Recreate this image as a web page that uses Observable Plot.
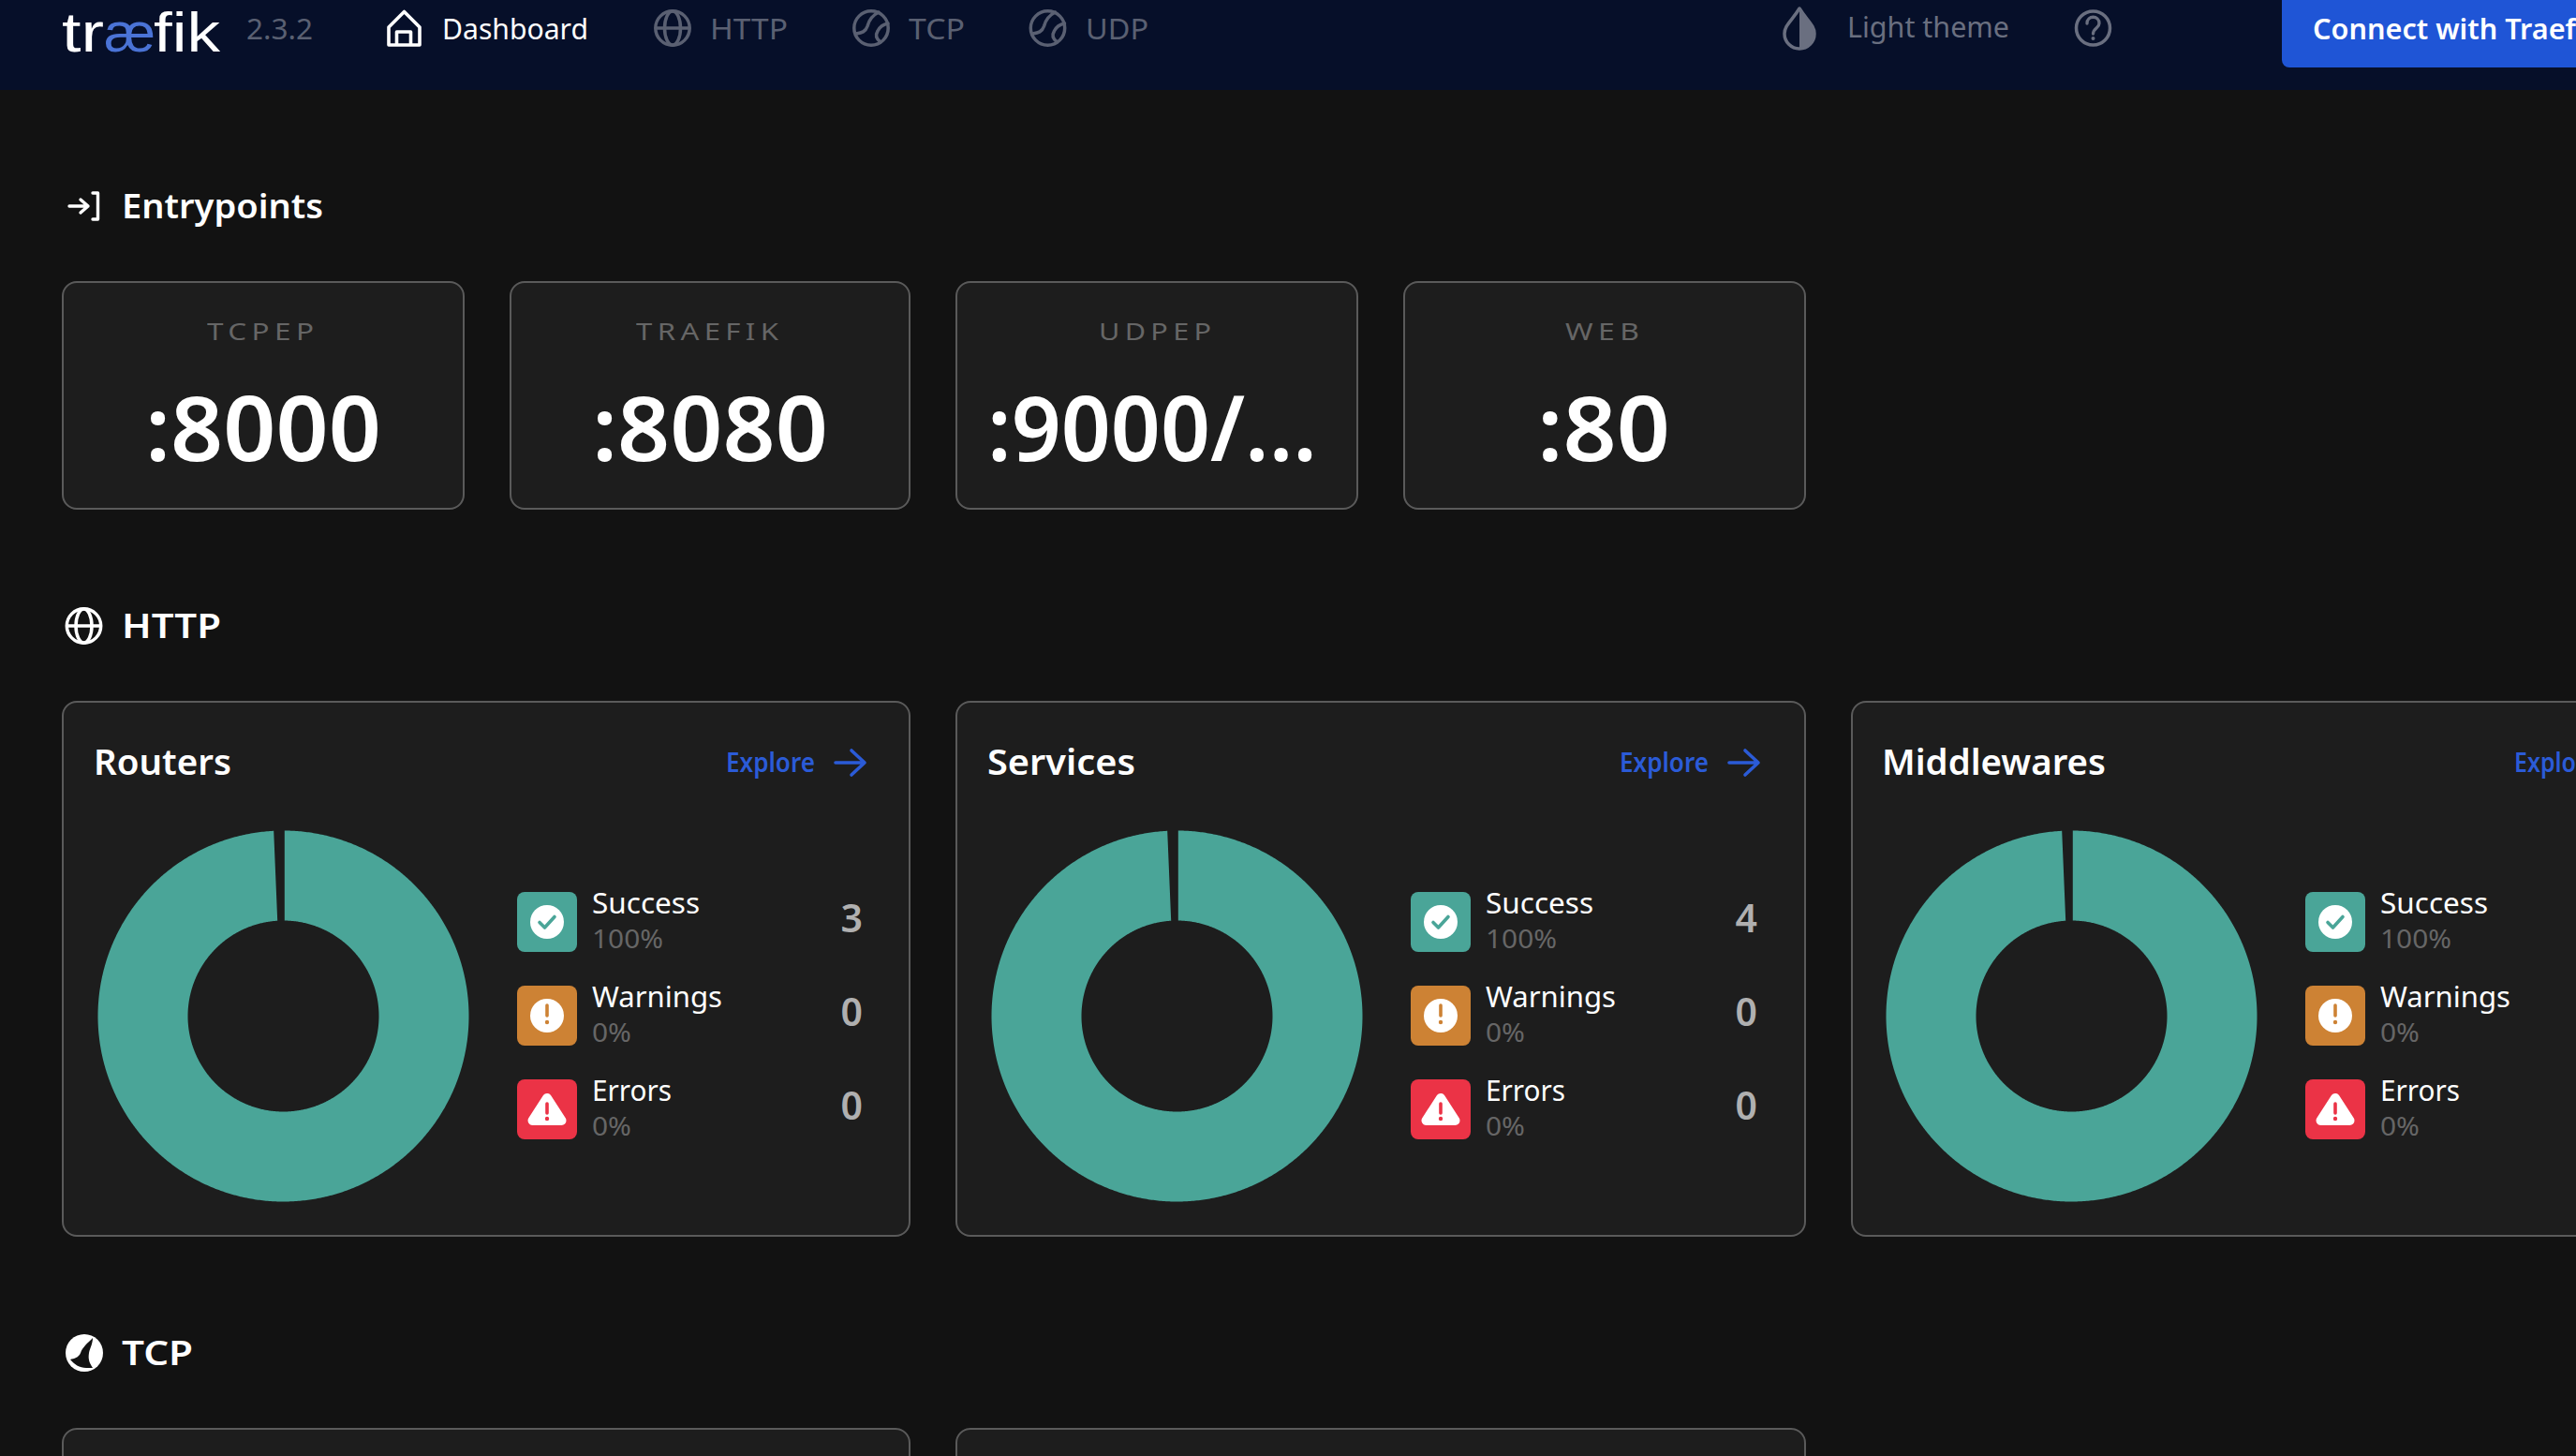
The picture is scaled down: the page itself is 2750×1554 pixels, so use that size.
<!DOCTYPE html>
<html><head><meta charset="utf-8">
<script src="https://cdn.jsdelivr.net/npm/d3@7"></script>
<script src="https://cdn.jsdelivr.net/npm/@observablehq/plot@0.6"></script>
<style>
html,body{margin:0;padding:0;background:#121212;overflow:hidden;width:2750px;height:1554px}
#page{position:relative;width:2750px;height:1554px;overflow:hidden;background:#121212;font-family:"Noto Sans",sans-serif}
#page>*{position:absolute}
.t{white-space:pre;line-height:1.1;transform-origin:left center}
.card{box-sizing:border-box;background:#1d1d1d;border:2px solid #5a5a5a;border-radius:16px}
svg.i{overflow:visible;left:0;top:0;width:2750px;height:1554px;pointer-events:none}
</style></head><body><div id="page"></div>
<script>
// ---------- data ----------
const versionLabel = "2.3.2";
const navLabels = ["Dashboard", "HTTP", "TCP", "UDP"];
const entryNames = ["TCPEP", "TRAEFIK", "UDPEP", "WEB"];
const entryPorts = [":8000", ":8080", ":9000/...", ":80"];
const sectionTitles = ["Entrypoints", "HTTP", "TCP"];
const chartTitles = ["Routers", "Services", "Middlewares"];
const exploreLabels = ["Explore", "Explore", "Explo"];
const statusNames = ["Success", "Warnings", "Errors"];
const statusColors = ["#4aa598", "#cd8234", "#eb3346"];
const routerPercents = [100, 0, 0];
const servicePercents = [100, 0, 0];
const middlewarePercents = [100, 0, 0];
const routerCounts = [3, 0, 0];
const serviceCounts = [4, 0, 0];
const chartPercents = [routerPercents, servicePercents, middlewarePercents];
const chartCounts = [routerCounts, serviceCounts, null];

// ---------- layout ----------
const page = document.getElementById("page");
const entryX = [66, 544, 1020, 1498], entryW = [430, 428, 430, 430];
const portCenters = [280.5, 758, 1229.5, 1711.5], portWidths = [252, 252, 352, 142];
const labelCenters = [278, 755, 1233, 1710.5], labelWidths = [114, 152, 120, 79];
const cardX = [66, 1020, 1976], cardW = [906, 908, 906], chartX = [66, 1020, 1975];
const countRight = [855, 856, 855];
const exploreWidths = [95, 95, 66];
const targets = {Dashboard:156, HTTP:83, TCP:60, UDP:67, "Light theme":173, "2.3.2":71,
  Entrypoints:215, Routers:147, Services:158, Middlewares:239,
  Success:115, Warnings:139, Errors:85, "100%":76, "0%":42};

function box(x, y, w, h, cls, css = "") {
  const d = document.createElement("div");
  d.className = cls;
  d.style.cssText = `left:${x}px;top:${y}px;width:${w}px;height:${h}px;${css}`;
  page.appendChild(d);
  return d;
}
function text(str, x, baseline, size, color, o = {}) {
  const d = document.createElement("div");
  d.className = "t";
  d.textContent = str;
  d.style.cssText = `left:${x}px;top:0;font-size:${size}px;color:${color};font-weight:${o.weight || 400};` +
    (o.family ? `font-family:${o.family};` : "") + (o.lh ? `line-height:${o.lh};` : "") +
    (o.ls ? `letter-spacing:${o.ls}px;` : "");
  page.appendChild(d);
  const strut = document.createElement("span");
  strut.style.cssText = "display:inline-block;width:0;height:0;vertical-align:baseline";
  d.appendChild(strut);
  d.style.top = baseline - strut.getBoundingClientRect().bottom + "px";
  let w = d.getBoundingClientRect().width - (o.ls || 0);
  if (o.width) {
    d.style.transform = `scaleX(${o.width / w})`;
    w = o.width;
  }
  if (o.anchor === "middle") d.style.left = x - w / 2 + "px";
  if (o.anchor === "end") d.style.left = x - w + "px";
  return d;
}

// header
box(0, 0, 2750, 96, "", "background:#060f29");
box(2436, -10, 330, 82, "", "background:#1f55d6;border-radius:8px");
const MUTED = "#5a6072", MUTED2 = "#6a6f80";
const LOGO = '"Liberation Sans"';
text("tr", 66, 55, 60, "#fff", {family:LOGO, lh:0.75, width:45});
text("æ", 111, 55, 60, "#4a73d6", {family:LOGO, lh:0.75, width:55});
text("fik", 164, 55, 60, "#fff", {family:LOGO, lh:0.75, width:71});
text(versionLabel, 263, 42, 30, MUTED, {width:targets["2.3.2"]});
text(navLabels[0], 472, 42, 30, "#fff", {width:targets.Dashboard});
text(navLabels[1], 758, 42, 30, MUTED, {width:targets.HTTP});
text(navLabels[2], 970, 42, 30, MUTED, {width:targets.TCP});
text(navLabels[3], 1159, 42, 30, MUTED, {width:targets.UDP});
text("Light theme", 1972, 40, 30, MUTED2, {width:targets["Light theme"]});
text("Connect with Traef", 2469, 42, 31, "#fff", {weight:600, width:281});

// sections
text(sectionTitles[0], 130, 233, 36, "#fff", {weight:600, width:targets.Entrypoints});
text(sectionTitles[1], 130, 681, 36, "#fff", {weight:600, width:106});
text(sectionTitles[2], 130, 1457, 36, "#fff", {weight:600, width:76});

// entrypoint cards
entryNames.forEach((name, i) => {
  box(entryX[i], 300, entryW[i], 244, "card");
  text(name, labelCenters[i], 363, 26, "#666", {anchor:"middle", width:labelWidths[i], ls:4.5});
  text(entryPorts[i], portCenters[i], 492, 95, "#fff", {anchor:"middle", weight:600, width:portWidths[i]});
});

// donut outline from a pie slice; the small seam is the hairline border of the original chart
const R = 198, r = 102;
function outline(slice, status) {
  const pts = [];
  const step = Math.PI / 360;
  const push = (rad, a) => pts.push({status, x: rad * Math.sin(a), y: rad * Math.cos(a)});
  const a0 = slice.startAngle + Math.asin(1.3 / R), a1 = slice.endAngle - Math.asin(10.3 / R);
  const b0 = slice.startAngle + Math.asin(1.3 / r), b1 = slice.endAngle - Math.asin(6.3 / r);
  for (let a = a0; a < a1; a += step) push(R, a);
  push(R, a1);
  for (let a = b1; a > b0; a -= step) push(r, a);
  push(r, b0);
  return pts;
}
function donut(percents) {
  const slices = d3.pie().sort(null)(percents);
  const points = slices.flatMap((s, i) => s.value > 0 ? outline(s, statusNames[i]) : []);
  return Plot.plot({
    width: 400, height: 400, margin: 0,
    style: {background: "transparent"},
    x: {domain: [-200, 200], range: [0, 400], axis: null},
    y: {domain: [-200, 200], range: [400, 0], axis: null},
    color: {domain: statusNames, range: statusColors},
    marks: [Plot.line(points, {x: "x", y: "y", z: "status", fill: "status", stroke: "none", curve: "linear"})]
  });
}

// chart cards
chartTitles.forEach((title, i) => {
  const X = chartX[i];
  box(cardX[i], 748, cardW[i], 572, "card");
  text(title, X + 34, 827, 37, "#fff", {weight:600, width:targets[title]});
  text(exploreLabels[i], X + 709, 824, 28, "#2b5bd7", {weight:600, width:exploreWidths[i]});
  const svg = donut(chartPercents[i]);
  svg.style.cssText += `;position:absolute;left:${X + 236 - 200}px;top:${1084 - 200}px`;
  page.appendChild(svg);
  statusNames.forEach((name, j) => {
    const y = 952 + j * 100;
    box(X + 486, y, 64, 64, "", `background:${statusColors[j]};border-radius:8px`);
    text(name, X + 566, y + 23, 31, "#fff", {width:targets[name]});
    const pct = chartPercents[i][j] + "%";
    text(pct, X + 566, y + 60, 28, "#666", {width:targets[pct]});
    if (chartCounts[i]) text(String(chartCounts[i][j]), X + countRight[i], y + 43, 41, "#b0b0b0", {anchor:"end", weight:600});
  });
});
box(66, 1524, 906, 300, "card");
box(1020, 1524, 908, 300, "card");

// icons (page chrome)
function wave(cx, cy, c) {
  return `<circle cx="${cx}" cy="${cy}" r="18.2" fill="none" stroke="${c}" stroke-width="3.5"/>
  <path d="M${cx+8} ${cy-17}C${cx+2} ${cy-14} ${cx-2} ${cy-10} ${cx-4} ${cy-2}C${cx-6} ${cy+4} ${cx-10} ${cy+5} ${cx-16} ${cy+6}" fill="none" stroke="${c}" stroke-width="3.5" stroke-linecap="round"/>
  <path d="M${cx+18} ${cy-5}C${cx+13} ${cy-4} ${cx+9} ${cy-1} ${cx+7} ${cy+3}C${cx+4} ${cy+8} ${cx+6} ${cy+12} ${cx+10} ${cy+15}" fill="none" stroke="${c}" stroke-width="3.5" stroke-linecap="round"/>`;
}
function globe(cx, cy, c) {
  return `<circle cx="${cx}" cy="${cy}" r="18.2" fill="none" stroke="${c}" stroke-width="3.5"/>
  <ellipse cx="${cx}" cy="${cy}" rx="8.5" ry="18" fill="none" stroke="${c}" stroke-width="3.5"/>
  <path d="M${cx-18} ${cy}H${cx+18}" stroke="${c}" stroke-width="3.5"/>`;
}
function statusIcons(X) {
  const x = X + 518;
  return `<circle cx="${x}" cy="984" r="18" fill="#fff"/>
  <path d="M${x-8} 984.5l5.5 5.5 10.5-11.5" fill="none" stroke="${statusColors[0]}" stroke-width="3.6" stroke-linecap="round" stroke-linejoin="round"/>
  <circle cx="${x}" cy="1084" r="18" fill="#fff"/>
  <path d="M${x} 1073v11" stroke="${statusColors[1]}" stroke-width="3.6" stroke-linecap="round"/><circle cx="${x}" cy="1091" r="2.2" fill="${statusColors[1]}"/>
  <path d="M${x} 1172L${x-15.5} 1196H${x+15.5}Z" fill="#fff" stroke="#fff" stroke-width="10" stroke-linejoin="round"/>
  <path d="M${x} 1178v10" stroke="${statusColors[2]}" stroke-width="3.6" stroke-linecap="round"/><circle cx="${x}" cy="1194" r="2.2" fill="${statusColors[2]}"/>`;
}
const icons = document.createElementNS("http://www.w3.org/2000/svg", "svg");
icons.setAttribute("class", "i");
icons.innerHTML = `
  <path d="M415 29L431.5 12.5 448 29V48H415ZM423.5 48V34H438.5V48" fill="none" stroke="#fff" stroke-width="3.6" stroke-linejoin="round"/>
  ${globe(718, 30, MUTED)}${wave(930, 30, MUTED)}${wave(1118.5, 30, MUTED)}
  <path d="M1921 9C1913 22 1905 27 1905 36A16 16 0 0 0 1937 36C1937 27 1929 22 1921 9Z" fill="none" stroke="${MUTED2}" stroke-width="3.5" stroke-linejoin="round"/>
  <path d="M1921 9C1929 22 1937 27 1937 36A16 16 0 0 1 1921 52Z" fill="${MUTED2}"/>
  <circle cx="2234.5" cy="30" r="18" fill="none" stroke="${MUTED2}" stroke-width="3.5"/>
  <path d="M2228 25C2228 16 2241 16 2241 25C2241 30 2234.5 30 2234.5 36" fill="none" stroke="${MUTED2}" stroke-width="3.3" stroke-linecap="round"/><circle cx="2234.5" cy="41" r="2" fill="${MUTED2}"/>
  <path d="M74 220H94M86 213L94 220 86 227" fill="none" stroke="#fff" stroke-width="3.4" stroke-linecap="round" stroke-linejoin="round"/>
  <path d="M99 206H104.5V234H99" fill="none" stroke="#fff" stroke-width="3.4" stroke-linecap="round" stroke-linejoin="round"/>
  ${globe(89.5, 668, "#fff")}
  <circle cx="90" cy="1444" r="20" fill="#fff"/>
  <path d="M99 1428C93 1434 88 1438 86 1444C84 1449 79 1450 75 1451C79 1456 85 1460 92 1460H99C95 1454 94 1450 95 1444C96 1439 99 1434 99 1428Z" fill="#121212"/>
  ${chartX.map(X => `<path d="M${X+826} 814H${X+857}M${X+843} 801L${X+857} 814 ${X+843} 827" fill="none" stroke="#2b5bd7" stroke-width="3.6" stroke-linecap="round" stroke-linejoin="round"/>${statusIcons(X)}`).join("")}
`;
page.appendChild(icons);
</script></body></html>
